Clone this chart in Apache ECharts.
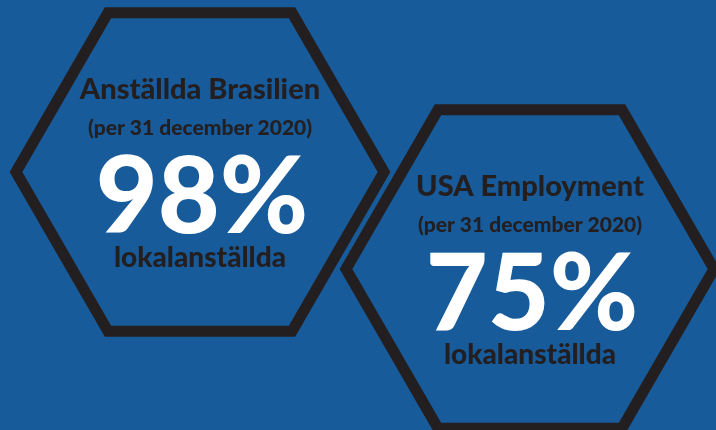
<!DOCTYPE html>
<html>
<head>
<meta charset="utf-8">
<script src="https://cdn.jsdelivr.net/npm/echarts@6/dist/echarts.min.js"></script>
<style>
  html, body { margin: 0; padding: 0; background: #185b9b; }
  #main { width: 716px; height: 430px; }
</style>
</head>
<body>
<div id="main"></div>
<script>
// data
const titles = ['Anställda Brasilien', 'USA Employment'];
const subtitles = ['(per 31 december 2020)', '(per 31 december 2020)'];
const shares = [98, 75];
const captions = ['lokalanställda', 'lokalanställda'];

// layout of the hexagons (centre x, centre y)
const centers = [[200, 172], [530, 269]];
const radius = 184;

const chart = echarts.init(document.getElementById('main'));
const font = 'Lato, "Open Sans", sans-serif';

function renderHex(params, api) {
  const i = params.dataIndex;
  const c = centers[i];
  const pts = [];
  for (let k = 0; k < 6; k++) {
    const a = Math.PI / 3 * k;
    pts.push([c[0] + radius * Math.cos(a), c[1] + radius * Math.sin(a)]);
  }
  return {
    type: 'group',
    children: [
      {
        type: 'polygon',
        shape: { points: pts },
        style: { fill: 'transparent', stroke: '#231f20', lineWidth: 11, lineJoin: 'miter' }
      },
      {
        type: 'text',
        style: {
          x: c[0], y: c[1] - 82, text: titles[i], fill: '#231f20',
          font: '900 29px ' + font, align: 'center', verticalAlign: 'middle'
        }
      },
      {
        type: 'text',
        style: {
          x: c[0], y: c[1] - 44, text: subtitles[i], fill: '#231f20',
          font: '900 21px ' + font, align: 'center', verticalAlign: 'middle'
        }
      },
      {
        type: 'text',
        style: {
          x: c[0] + 2, y: c[1] + 26, text: api.value(0) + '%', fill: '#ffffff',
          font: '900 107px ' + font, align: 'center', verticalAlign: 'middle'
        }
      },
      {
        type: 'text',
        style: {
          x: c[0], y: c[1] + 86, text: captions[i], fill: '#231f20',
          font: '900 28px ' + font, align: 'center', verticalAlign: 'middle'
        }
      }
    ]
  };
}

chart.setOption({
  backgroundColor: '#185b9b',
  animation: false,
  series: [{
    type: 'custom',
    coordinateSystem: 'none',
    renderItem: renderHex,
    data: shares.map(v => [v])
  }]
});
</script>
</body>
</html>
